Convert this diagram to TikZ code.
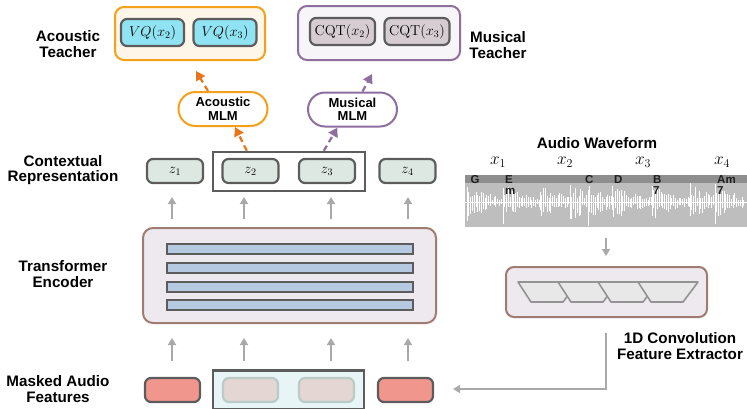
\documentclass[tikz,border=0pt]{standalone}
\usepackage[no-math]{fontspec}
\setmainfont{Liberation Sans}
\usetikzlibrary{arrows.meta,calc}

\definecolor{acborder}{HTML}{F5A01A}
\definecolor{acarrow}{HTML}{E8751A}
\definecolor{acfill}{HTML}{FFF6EA}
\definecolor{vqfill}{HTML}{8FE3F2}
\definecolor{muborder}{HTML}{8E6EA0}
\definecolor{mufill}{HTML}{F8F5F9}
\definecolor{cqtfill}{HTML}{D6CDD2}
\definecolor{boxline}{HTML}{5C5C5C}
\definecolor{zfill}{HTML}{DCE8E1}
\definecolor{encline}{HTML}{9F7B72}
\definecolor{encfill}{HTML}{EEE8EF}
\definecolor{layerfill}{HTML}{B5CAE1}
\definecolor{maskred}{HTML}{F0968D}
\definecolor{maskfill}{HTML}{E7F5F6}
\definecolor{hidefill}{HTML}{E4D6D2}
\definecolor{hideline}{HTML}{BACBC8}
\definecolor{flowgray}{HTML}{A9A9A9}
\definecolor{wavebg}{HTML}{BEBEBE}
\definecolor{waveband}{HTML}{8E8E8E}

\tikzset{
  lbl/.style={font=\fontsize{15.2}{15.5}\selectfont\bfseries, align=center},
  tokbox/.style={draw=boxline, line width=2.2pt, rounded corners=6pt, inner sep=0pt,
    minimum height=24pt, font=\fontsize{14}{14}\selectfont},
  teachbox/.style={line width=2pt, rounded corners=9pt, inner sep=0pt},
  mlmbox/.style={draw, fill=white, line width=2pt, rounded corners=17pt, inner sep=0pt,
    minimum width=89pt, minimum height=34pt, align=center, font=\fontsize{13}{13.5}\selectfont\bfseries},
  flow/.style={draw=flowgray, line width=2pt, -{Triangle[width=8pt,length=7pt]}},
  mlmflow/.style={line width=2.2pt, dash pattern=on 6pt off 4pt, -{Triangle[width=10pt,length=9pt]}},
  chord/.style={anchor=north west, inner sep=0pt, align=left, font=\fontsize{11.5}{11.5}\selectfont\bfseries, text=black!88},
  wave/.style={white, line width=1pt}
}

\begin{document}
\begin{tikzpicture}[x=1pt,y=-1pt]
\useasboundingbox (0,0) rectangle (747,408);

% teachers
\node[teachbox, draw=acborder, fill=acfill, minimum width=150pt, minimum height=53pt] (acteach) at (190,33.5) {};
\node[tokbox, fill=vqfill, minimum width=63pt, minimum height=27pt] (vq2) at (152.5,32.5) {$VQ(x_2)$};
\node[tokbox, fill=vqfill, minimum width=63pt, minimum height=27pt] (vq3) at (225,32.5) {$VQ(x_3)$};
\node[lbl] (aclabel) at (68,44) {Acoustic\\Teacher};

\node[teachbox, draw=muborder, fill=mufill, minimum width=162pt, minimum height=54pt] (muteach) at (379,33) {};
\node[tokbox, fill=cqtfill, minimum width=65pt, minimum height=27pt] (cqt2) at (342.5,31.5) {$\mathrm{CQT}(x_2)$};
\node[tokbox, fill=cqtfill, minimum width=65pt, minimum height=27pt] (cqt3) at (417,31.5) {$\mathrm{CQT}(x_3)$};
\node[lbl] (mulabel) at (498,45) {Musical\\Teacher};

% MLM heads
\node[mlmbox, draw=acborder] (amlm) at (223,109) {Acoustic\\MLM};
\node[mlmbox, draw=muborder] (mmlm) at (352.5,109.5) {Musical\\MLM};

% contextual representation
\node[draw=boxline, line width=2.4pt, minimum width=152pt, minimum height=39pt, inner sep=0pt] (zgroup) at (289,171.5) {};
\node[tokbox, fill=zfill, minimum width=56pt] (z1) at (175,171) {$z_1$};
\node[tokbox, fill=zfill, minimum width=56pt] (z2) at (250.5,171) {$z_2$};
\node[tokbox, fill=zfill, minimum width=56pt] (z3) at (327,171) {$z_3$};
\node[tokbox, fill=zfill, minimum width=56pt] (z4) at (407.5,171) {$z_4$};
\node[lbl] (ctxlabel) at (63,170) {Contextual\\Representation};

\draw[mlmflow, acarrow] ([xshift=35pt]zgroup.north west) -- ([xshift=12pt]amlm.south);
\draw[mlmflow, acarrow] ([xshift=-15pt]amlm.north) -- ($(acteach.south)+(6,10)$);
\draw[mlmflow, muborder] ([xshift=112pt]zgroup.north west) -- ([xshift=-15pt]mmlm.south);
\draw[mlmflow, muborder] ([xshift=10pt]mmlm.north) -- ($(muteach.south)+(-7,13)$);

% transformer encoder
\node[draw=encline, fill=encfill, line width=2pt, rounded corners=10pt, minimum width=293pt, minimum height=95pt] (enc) at (289.5,275.5) {};
\foreach \ly in {249,268,287,305}
  \draw[boxline, fill=layerfill, line width=1.6pt] (167,\ly-5) rectangle (413,\ly+5);
\node[lbl] (enclabel) at (63,274) {Transformer\\Encoder};

\foreach \ax in {172,244,331,408}{
  \draw[flow] (\ax,219) -- (\ax,197);
  \draw[flow] (\ax,361) -- (\ax,338);
}

% masked audio features
\node[draw=boxline, fill=maskfill, line width=2.4pt, minimum width=151pt, minimum height=39pt, inner sep=0pt] (mgroup) at (288.5,390) {};
\node[tokbox, fill=maskred, minimum width=55pt] (m1) at (172.5,390) {};
\node[tokbox, draw=hideline, fill=hidefill, minimum width=55pt] (m2) at (250.5,390) {};
\node[tokbox, draw=hideline, fill=hidefill, minimum width=55pt] (m3) at (326.5,390) {};
\node[tokbox, fill=maskred, minimum width=55pt] (m4) at (405.5,390) {};
\node[lbl] (masklabel) at (58,389) {Masked Audio\\Features};

% audio waveform
\node[lbl] (wavetitle) at (597,143) {Audio Waveform};
\foreach \xi/\xx in {1/498,2/565,3/643,4/722}
  \node[font=\fontsize{18}{18}\selectfont] (x\xi) at (\xx,162) {$x_\xi$};
\fill[wavebg] (465,175) rectangle (747,227);
\fill[waveband] (465,175) rectangle (747,183);
\begin{scope}
\clip (465,183) rectangle (747,227);
\pgfmathsetseed{11}
\foreach \wa/\wb in {467/503,503/540,540/570,570/588,588/612,612/652,652/690,690/715,715/745}{
  \pgfmathsetmacro{\nwav}{int((\wb-\wa)/1.8)}
  \foreach \k in {0,...,\nwav}{
    \pgfmathsetmacro{\px}{\wa+1.8*\k}
    \pgfmathsetmacro{\env}{2+18*exp(-1.8*\k/22)}
    \pgfmathsetmacro{\up}{\env*(0.25+0.75*rnd)}
    \pgfmathsetmacro{\dn}{\env*(0.25+0.75*rnd)}
    \draw[wave] (\px,202-\up) -- (\px,202+\dn);
  }
}
\draw[white, line width=0.8pt] (465,202) -- (747,202);
\foreach \cx/\cy in {503/224,588/226,652/212,715/224}
  \draw[white, line width=0.8pt] (\cx,190) -- (\cx,\cy);
\end{scope}
\node[chord] (cG) at (470.5,175) {G};
\node[chord] (cEm) at (505,175) {E\\m};
\node[chord] (cC) at (585,175) {C};
\node[chord] (cD) at (614,175) {D};
\node[chord] (cB) at (653,175) {B\\7};
\node[chord] (cAm) at (717,175) {Am\\7};

% feature extractor
\coordinate (wavebot) at (606,238);
\node[draw=encline, fill=encfill, line width=2pt, rounded corners=8pt, minimum width=201pt, minimum height=50pt] (conv) at (606.5,292) {};
\draw[flow] (wavebot) -- ([yshift=10pt]conv.north -| wavebot);
\foreach \ci in {0,1,2,3}
  \draw[draw=gray!85, fill=gray!18, line width=1.6pt, line join=round]
    (518+40*\ci,282) -- (578+40*\ci,282) -- (563+40*\ci,302) -- (531+40*\ci,302) -- cycle;
\node[lbl] (convlabel) at (680,346) {1D Convolution\\Feature Extractor};

\coordinate (convout) at (606,333);
\coordinate (bend) at (606,389);
\draw[flow] (convout) -- (bend) -- ([xshift=19pt]m4.east |- bend);
\end{tikzpicture}
\end{document}
